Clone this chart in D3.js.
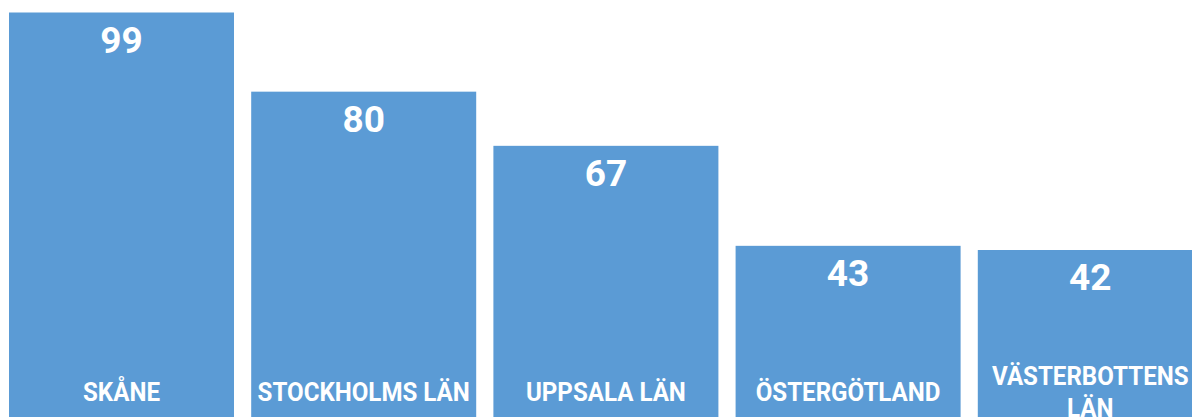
<!DOCTYPE html>
<html>
<head>
<meta charset="utf-8">
<script src="https://cdn.jsdelivr.net/npm/d3@7"></script>
<style>
  html, body { margin: 0; padding: 0; background: #ffffff; overflow: hidden; }
  svg { display: block; }
</style>
</head>
<body>
<svg id="chart" width="1192" height="417"></svg>
<script>
const categories = ["SKÅNE", "STOCKHOLMS LÄN", "UPPSALA LÄN", "ÖSTERGÖTLAND", "VÄSTERBOTTENS LÄN"];
const values = [99, 80, 67, 43, 42];

const svg = d3.select("#chart");

const x = d3.scaleBand()
  .domain(categories)
  .range([9, 1202.8])
  .paddingInner(0.071)
  .paddingOuter(0);

const y = d3.scaleLinear()
  .domain([0, 102])
  .range([425, 0]);

const data = categories.map((c, i) => ({ cat: c, val: values[i] }));

const g = svg.append("g");

g.selectAll("rect.bar")
  .data(data)
  .join("rect")
  .attr("class", "bar")
  .attr("x", d => x(d.cat))
  .attr("y", d => y(d.val))
  .attr("width", x.bandwidth())
  .attr("height", d => y(0) - y(d.val))
  .attr("fill", "#5b9bd5");

g.selectAll("text.val")
  .data(data)
  .join("text")
  .attr("class", "val")
  .attr("x", d => x(d.cat) + x.bandwidth() / 2)
  .attr("y", d => y(d.val) + 40)
  .attr("text-anchor", "middle")
  .attr("fill", "#ffffff")
  .style("font-family", "Roboto, 'Liberation Sans', sans-serif")
  .style("font-weight", "700")
  .style("font-size", "37px")
  .text(d => d.val);

// category labels: condensed bold, wrapped inside the bar
const sx = 0.91;
const lineH = 32;
const centerY = 391.5;
const capH = 19;
const maxW = x.bandwidth() - 10;

data.forEach(d => {
  const cx = x(d.cat) + x.bandwidth() / 2;
  const lg = g.append("g").attr("transform", `translate(${cx},0) scale(${sx},1)`);
  const t = lg.append("text")
    .attr("x", 0)
    .attr("text-anchor", "middle")
    .attr("fill", "#ffffff")
    .style("font-family", "Roboto, 'Liberation Sans', sans-serif")
    .style("font-weight", "700")
    .style("font-size", "26.5px");
  const words = d.cat.split(" ");
  const lines = [];
  let cur = [];
  const probe = t.append("tspan");
  words.forEach(w => {
    const test = cur.concat([w]).join(" ");
    probe.text(test);
    if (probe.node().getComputedTextLength() * sx > maxW && cur.length) {
      lines.push(cur.join(" "));
      cur = [w];
    } else {
      cur.push(w);
    }
  });
  lines.push(cur.join(" "));
  probe.remove();
  const firstBase = centerY + capH / 2 - (lines.length - 1) * lineH / 2;
  lines.forEach((ln, i) => {
    t.append("tspan")
      .attr("x", 0)
      .attr("y", firstBase + i * lineH)
      .text(ln);
  });
});
</script>
</body>
</html>
